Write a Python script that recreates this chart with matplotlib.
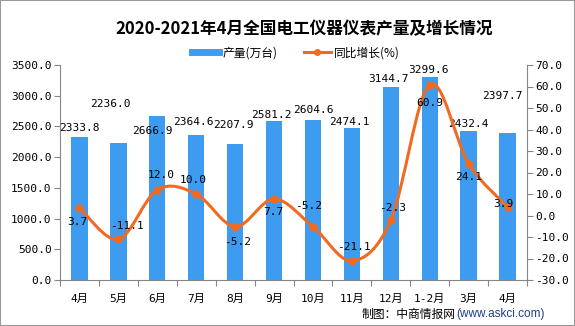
import matplotlib
matplotlib.use('Agg')
import matplotlib.pyplot as plt
from matplotlib.path import Path
from matplotlib.patches import PathPatch, Rectangle
from matplotlib.lines import Line2D

months = ['4月', '5月', '6月', '7月', '8月', '9月', '10月', '11月', '12月', '1-2月', '3月', '4月']
output = [2333.8, 2236.0, 2666.9, 2364.6, 2207.9, 2581.2, 2604.6, 2474.1, 3144.7, 3299.6, 2432.4, 2397.7]
growth = [3.7, -11.1, 12.0, 10.0, -5.2, 7.7, -5.2, -21.1, -2.3, 60.9, 24.1, 3.9]

left_ticks = [0, 500, 1000, 1500, 2000, 2500, 3000, 3500]
right_ticks = [-30, -20, -10, 0, 10, 20, 30, 40, 50, 60, 70]

# label offsets in pixels (dx, dy), dy positive = up
bar_lbl_off = [(0, 9), (-8, 39), (-5, -15), (-3, 13), (-2, 19), (-3, 6),
               (0, 10), (-2, 6), (-2, 8), (-1, 7), (0, 7), (-5, 37)]
line_lbl_off = [(-2, -14), (9, 13), (4, 15), (-3, 14), (2, -15), (-1, -13),
                (-4, 21), (2, 14), (2, 12), (0, -18), (0, -13), (-4, 3)]

BLUE = '#3d9cf0'
ORANGE = '#f26a1f'
GRAY = '#868686'
num_font = ['DejaVu Sans Mono', 'Noto Sans CJK SC']
cjk_font = ['Noto Sans CJK SC', 'DejaVu Sans']

W, H = 575, 326
fig = plt.figure(figsize=(W / 100, H / 100), dpi=100)
ax = fig.add_axes([60 / W, 1 - 280 / H, 467 / W, 215 / H])
ax2 = ax.twinx()

x = list(range(len(months)))
ax.bar(x, output, width=0.42, color=BLUE, zorder=2)
ax.set_xlim(-0.5, len(months) - 0.5)
ax.set_ylim(0, 3500)
ax.set_yticks(left_ticks)
ax.set_yticklabels(['%.1f' % v for v in left_ticks], family=num_font, fontsize=8)
ax.set_xticks([i + 0.5 for i in range(-1, len(months))])
ax.set_xticklabels([])
ax.set_xticks(x, minor=True)
ax.set_xticklabels(months, minor=True, family=num_font, fontsize=8)
ax.tick_params(axis='x', which='major', length=4, color=GRAY, direction='out')
ax.tick_params(axis='x', which='minor', length=0, pad=10)
ax.tick_params(axis='y', length=4, color=GRAY, pad=2)

ax2.set_ylim(-30, 70)
ax2.set_yticks(right_ticks)
ax2.set_yticklabels(['%.1f' % v for v in right_ticks], family=num_font, fontsize=8)
ax2.tick_params(axis='y', length=4, color=GRAY, pad=2)

for a in (ax, ax2):
    a.spines['top'].set_visible(False)
    for s in ('left', 'right', 'bottom'):
        a.spines[s].set_color(GRAY)
ax.spines['right'].set_visible(False)
ax2.spines['left'].set_visible(False)
ax2.spines['bottom'].set_visible(False)

# smoothed line (Catmull-Rom as cubic Bezier) through the data points
pts = list(zip(x, growth))
verts = [pts[0]]
codes = [Path.MOVETO]
n = len(pts)
for i in range(n - 1):
    p0 = pts[max(i - 1, 0)]
    p1 = pts[i]
    p2 = pts[i + 1]
    p3 = pts[min(i + 2, n - 1)]
    c1 = (p1[0] + (p2[0] - p0[0]) / 6, p1[1] + (p2[1] - p0[1]) / 6)
    c2 = (p2[0] - (p3[0] - p1[0]) / 6, p2[1] - (p3[1] - p1[1]) / 6)
    verts += [c1, c2, p2]
    codes += [Path.CURVE4] * 3
ax2.add_patch(PathPatch(Path(verts, codes), facecolor='none', edgecolor=ORANGE,
                        lw=2.2, zorder=3))
ax2.plot(x, growth, linestyle='none', marker='o', ms=5, color=ORANGE, zorder=4)

for i, v in enumerate(output):
    ax.annotate('%.1f' % v, (i, v), xytext=bar_lbl_off[i], textcoords='offset pixels',
                ha='center', va='center', family=num_font, fontsize=8, zorder=5)
for i, v in enumerate(growth):
    ax2.annotate('%.1f' % v, (i, v), xytext=line_lbl_off[i], textcoords='offset pixels',
                 ha='center', va='center', family=num_font, fontsize=8, zorder=5)

fig.text(304 / W, 1 - 29 / H, '2020-2021年4月全国电工仪器仪表产量及增长情况',
         ha='center', va='center', family=cjk_font, fontsize=12, fontweight='bold')

handles = [Line2D([], [], color=BLUE, lw=5),
           Line2D([], [], color=ORANGE, lw=2.2, marker='o', ms=4)]
fig.legend(handles, ['产量(万台)', '同比增长(%)'], loc='center', ncol=2,
           bbox_to_anchor=(296 / W, 1 - 53 / H), frameon=False,
           prop={'family': cjk_font, 'size': 8.5}, handlelength=2.3,
           handletextpad=0.3, columnspacing=2.2)

fig.text(456 / W, 1 - 314 / H, '制图：中商情报网', ha='right', va='center',
         family=cjk_font, fontsize=8.5)
fig.text(456 / W, 1 - 314 / H, '(www.askci.com)', ha='left', va='center',
         family=['Liberation Sans'], fontsize=8.5, color='#1c3f8c')

fig.patches.append(Rectangle((0, 0), 1, 1, transform=fig.transFigure, fill=False,
                             edgecolor='#999999', lw=1.5))

fig.savefig('out.png', dpi=100)
